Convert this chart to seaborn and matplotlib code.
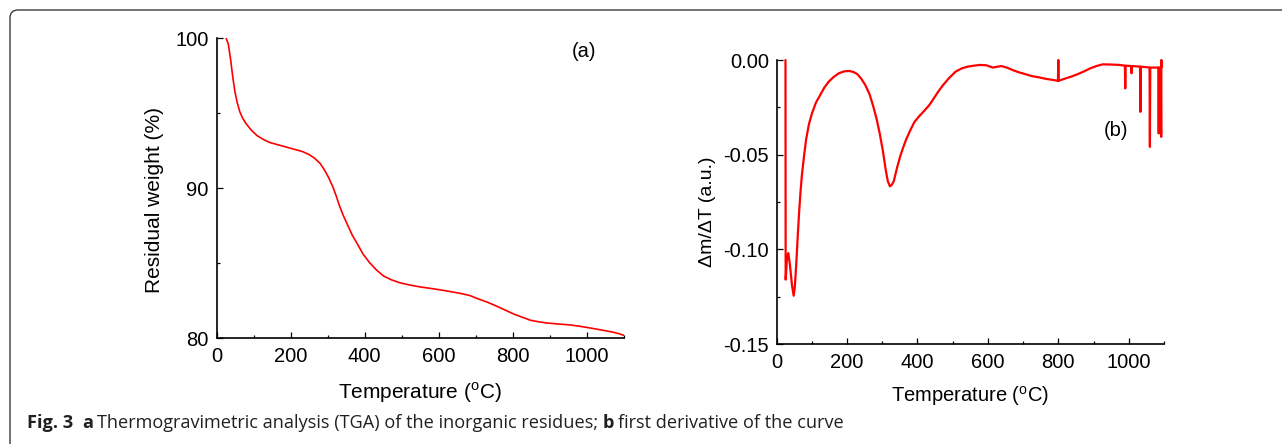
import numpy as np
import pandas as pd
import matplotlib
matplotlib.use("Agg")
import matplotlib.pyplot as plt
import seaborn as sns
from matplotlib.ticker import MultipleLocator, FixedLocator, FuncFormatter
from matplotlib.patches import FancyBboxPatch
from matplotlib.transforms import IdentityTransform

# ---------------- data ----------------
tga_temp = [26, 32, 38, 44, 50, 56, 63, 70, 80, 95, 110, 127, 144, 166, 188,
            210, 232, 250, 265, 280, 292, 303, 314, 323, 331, 342, 353, 366,
            380, 396, 413, 432, 451, 472, 495, 522, 551, 580, 606, 635, 661,
            684, 704, 732, 760, 782, 804, 826, 848, 870, 892, 925, 958, 986,
            1013, 1040, 1068, 1085, 1099]
tga_weight = [100.0, 99.6, 98.6, 97.4, 96.4, 95.7, 95.1, 94.7, 94.3, 93.85,
              93.5, 93.25, 93.05, 92.9, 92.75, 92.6, 92.45, 92.25, 92.0,
              91.65, 91.2, 90.7, 90.1, 89.5, 88.9, 88.2, 87.6, 86.9, 86.3,
              85.6, 85.05, 84.55, 84.15, 83.9, 83.7, 83.55, 83.42, 83.32,
              83.22, 83.1, 82.98, 82.85, 82.65, 82.4, 82.1, 81.85, 81.6, 81.4,
              81.2, 81.1, 81.02, 80.95, 80.88, 80.78, 80.67, 80.55, 80.42,
              80.32, 80.2]

dtg_temp = [25.5, 26, 30, 33.5, 38, 44, 48.7, 52, 56, 60, 64, 68, 72, 78, 84,
            92, 101, 112, 124, 136, 148, 162, 177, 192, 206, 218, 229, 240,
            252, 264, 275, 284, 293, 302, 310, 316, 322, 327, 333, 342, 351,
            360, 368, 380, 392, 406, 421, 433, 444, 458, 473, 490, 508, 525,
            543, 560, 578, 596, 614, 626, 638, 654, 670, 688, 705, 725, 746,
            766, 787, 799, 800, 801, 810, 821, 838, 856, 873, 891, 908, 926,
            950, 973, 989, 990, 991, 1007, 1008, 1009, 1032, 1033, 1034, 1059,
            1060, 1061, 1084, 1085, 1086, 1091, 1092, 1092.5, 1093]
dtg_value = [0.0, -0.116, -0.104, -0.102, -0.108, -0.119, -0.1245, -0.120,
             -0.108, -0.094, -0.081, -0.070, -0.061, -0.051, -0.042, -0.034,
             -0.028, -0.0225, -0.0185, -0.0145, -0.0115, -0.009, -0.007,
             -0.006, -0.0058, -0.0063, -0.0074, -0.0097, -0.0132, -0.018,
             -0.0247, -0.031, -0.0388, -0.048, -0.058, -0.064, -0.0667,
             -0.066, -0.064, -0.057, -0.051, -0.046, -0.042, -0.037, -0.0326,
             -0.0295, -0.0265, -0.024, -0.021, -0.017, -0.0132, -0.0095,
             -0.0062, -0.0045, -0.0035, -0.003, -0.0026, -0.0028, -0.0040,
             -0.0036, -0.0032, -0.0040, -0.0053, -0.0065, -0.0074, -0.0085,
             -0.0092, -0.0100, -0.0106, -0.011, 0.0, -0.011, -0.0104, -0.0097,
             -0.0087, -0.0074, -0.006, -0.0044, -0.0032, -0.0023, -0.0024,
             -0.0026, -0.003, -0.015, -0.003, -0.0032, -0.007, -0.0032,
             -0.0035, -0.0274, -0.0035, -0.004, -0.0459, -0.004, -0.004,
             -0.0388, -0.004, -0.004, -0.0406, 0.0, -0.004]

x_ticks = [0, 200, 400, 600, 800, 1000]
a_yticks = [80, 90, 100]
b_yticks = [-0.15, -0.10, -0.05, 0.00]

caption_parts = [("Fig. 3", "bold"), ("a", "bold"),
                 ("Thermogravimetric analysis (TGA) of the inorganic residues;", "normal"),
                 ("b", "bold"), ("first derivative of the curve", "normal")]

# ---------------- style ----------------
sns.set_theme(style="ticks")
plt.rcParams["font.family"] = ["Liberation Sans", "DejaVu Sans"]
plt.rcParams["mathtext.fontset"] = "custom"
plt.rcParams["mathtext.rm"] = "Liberation Sans"
plt.rcParams["axes.unicode_minus"] = False

W, H = 1282, 444
fig = plt.figure(figsize=(W / 100, H / 100), dpi=100)
fig.patch.set_facecolor("white")

ax1 = fig.add_axes([216.5 / W, 1 - 338.3 / H, 407.5 / W, 300 / H])
ax2 = fig.add_axes([776.5 / W, 1 - 344 / H, 387.5 / W, 284 / H])

df_a = pd.DataFrame({"T": tga_temp, "w": tga_weight})
df_b = pd.DataFrame({"T": dtg_temp, "v": dtg_value})

sns.lineplot(data=df_a, x="T", y="w", ax=ax1, color="#ff0000", lw=1.2,
             estimator=None, sort=False)
sns.lineplot(data=df_b, x="T", y="v", ax=ax2, color="#ff0000", lw=1.6,
             estimator=None, sort=False, clip_on=False)

for ax in (ax1, ax2):
    ax.set_facecolor("white")
    for s in ("top", "right"):
        ax.spines[s].set_visible(False)
    for s in ("left", "bottom"):
        ax.spines[s].set_linewidth(1.2)
        ax.spines[s].set_color("black")
    ax.set_xlim(0, 1100)
    ax.xaxis.set_major_locator(FixedLocator(x_ticks))
    ax.xaxis.set_minor_locator(MultipleLocator(100))
    ax.tick_params(which="both", direction="in", color="black", width=0.9,
                   labelsize=14.5, labelcolor="black")
    ax.tick_params(which="major", length=4)
    ax.tick_params(which="minor", length=2.5)
    ax.tick_params(axis="x", pad=6.5)
    ax.tick_params(axis="y", pad=5.5)
    ax.grid(False)

ax1.set_ylim(80, 100)
ax1.yaxis.set_major_locator(FixedLocator(a_yticks))
ax1.yaxis.set_minor_locator(MultipleLocator(5))

ax2.set_ylim(-0.15, 0.0)
ax2.yaxis.set_major_locator(FixedLocator(b_yticks))
ax2.yaxis.set_minor_locator(MultipleLocator(0.025))
ax2.yaxis.set_major_formatter(FuncFormatter(lambda v, p: f"{v:.2f}".replace("-0.00", "0.00")))

temp_label = r"Temperature ($^{\mathrm{o}}$C)"
ax1.set_xlabel(temp_label, fontsize=15, color="black")
ax1.set_ylabel("Residual weight (%)", fontsize=15, color="black")
ax2.set_xlabel(temp_label, fontsize=14.5, color="black")
ax2.set_ylabel(r"Δm/ΔT (a.u.)", fontsize=14, color="black")

ax1.xaxis.label.set_va("center")
ax1.xaxis.set_label_coords(0.5, -0.182)
ax1.yaxis.label.set_va("center")
ax1.yaxis.set_label_coords(-0.153, 0.461)
ax2.xaxis.label.set_va("center")
ax2.xaxis.set_label_coords(0.5, -0.183)
ax2.yaxis.label.set_va("center")
ax2.yaxis.set_label_coords(-0.179, 0.465)

ax1.text(992, 99.1, "(a)", fontsize=14.5, ha="center", va="center", color="black")
ax2.text(965, -0.037, "(b)", fontsize=14.5, ha="center", va="center", color="black")

# ---------------- rounded frame ----------------
frame = FancyBboxPatch((10, -30), W + 40, (H - 10) + 30,
                       boxstyle="round,pad=0,rounding_size=8",
                       transform=IdentityTransform(), fill=False,
                       edgecolor="#3a3a3a", lw=1.0)
fig.add_artist(frame)

# ---------------- caption ----------------
cap_family = ["Open Sans", "DejaVu Sans"]
gaps = [9, 4, 4, 4]  # pixel gaps after each part
target_width = 818.0
x0, base_y = 27.0, H - 428.0


def build(size):
    texts = []
    for txt, wt in caption_parts:
        t = fig.text(0, base_y / H, txt, fontsize=size, fontweight=wt,
                     family=cap_family, color="#231f20", va="baseline",
                     ha="left")
        texts.append(t)
    return texts


def layout(texts):
    fig.canvas.draw()
    r = fig.canvas.get_renderer()
    x = x0
    for i, t in enumerate(texts):
        t.set_x(x / W)
        bb = t.get_window_extent(renderer=r)
        x += bb.width + (gaps[i] if i < len(gaps) else 0)
    return x - x0


size = 12
texts = build(size)
width = layout(texts)
scale = target_width / width
for t in texts:
    t.remove()
size = size * scale
texts = build(size)
layout(texts)

fig.savefig("out.png", dpi=100, facecolor="white")
